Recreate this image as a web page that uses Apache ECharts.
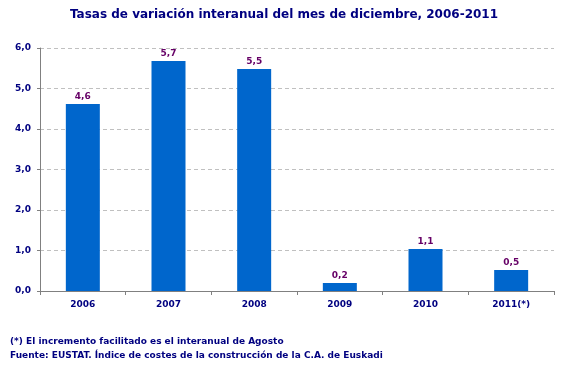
<!DOCTYPE html>
<html><head><meta charset="utf-8">
<script src="https://cdn.jsdelivr.net/npm/echarts@6/dist/echarts.min.js"></script>
<style>html,body{margin:0;padding:0;background:#fff}#c{width:568px;height:368px}</style>
</head><body><div id="c"></div>
<script>
const categories = ['2006','2007','2008','2009','2010','2011(*)'];
const values = [4.62, 5.68, 5.48, 0.2, 1.04, 0.52];
const labels = ['4,6','5,7','5,5','0,2','1,1','0,5'];
const yTicks = ['0,0','1,0','2,0','3,0','4,0','5,0','6,0'];
const titleText = 'Tasas de variación interanual del mes de diciembre, 2006-2011';
const notes = ['(*) El incremento facilitado es el interanual de Agosto',
  'Fuente: EUSTAT. Índice de costes de la construcción de la C.A. de Euskadi'];

const FONT = 'DejaVu Sans';
const NAVY = '#000080';
const chart = echarts.init(document.getElementById('c'), null, {renderer:'canvas'});
chart.setOption({
  animation:false,
  backgroundColor:'#fff',
  title:[
    {text:titleText, left:'center', top:4, textStyle:{fontFamily:FONT, fontSize:12, fontWeight:'bold', color:NAVY}},
    {text:notes[0], left:5, top:332, textStyle:{fontFamily:FONT, fontSize:9, fontWeight:'bold', color:NAVY}},
    {text:notes[1], left:5, top:346, textStyle:{fontFamily:FONT, fontSize:9, fontWeight:'bold', color:NAVY}}
  ],
  grid:{left:40, right:14, top:48, bottom:77, containLabel:false},
  xAxis:{type:'category', data:categories,
    axisLine:{lineStyle:{color:'#808080'}},
    axisTick:{show:true, length:4, lineStyle:{color:'#808080'}},
    axisLabel:{fontFamily:FONT, fontSize:9, fontWeight:'bold', color:NAVY, margin:9}},
  yAxis:{type:'value', min:0, max:6, interval:1,
    axisLine:{show:true, lineStyle:{color:'#808080'}},
    axisTick:{show:true, length:3, lineStyle:{color:'#808080'}},
    axisLabel:{fontFamily:FONT, fontSize:9, fontWeight:'bold', color:NAVY, margin:9,
      formatter:(v)=>yTicks[Math.round(v)]},
    splitLine:{lineStyle:{color:'#c0c0c0', type:[4,3]}}},
  series:[{type:'bar', data:values, barWidth:34,
    itemStyle:{color:'#0066CC'},
    label:{show:true, position:'top', distance:3, fontFamily:FONT, fontSize:9, fontWeight:'bold', color:'#660066',
      formatter:(p)=>labels[p.dataIndex]}}]
});
</script></body></html>
